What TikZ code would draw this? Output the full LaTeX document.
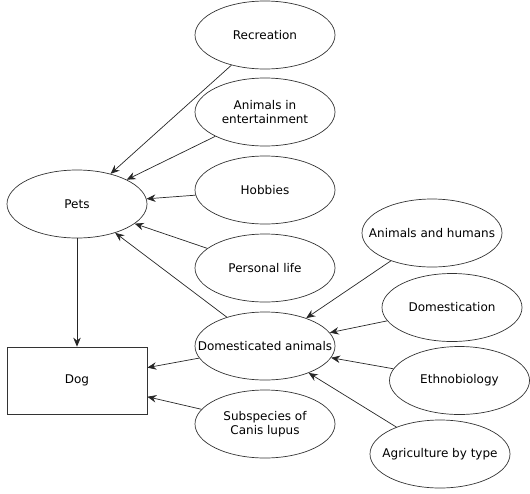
\documentclass[tikz,border=0pt]{standalone}
\usepackage{fontspec}
\setmainfont{DejaVu Sans}
\usetikzlibrary{shapes.geometric,arrows.meta}
\begin{document}
\begin{tikzpicture}[x=1pt,y=-1pt,
  lab/.style={align=center,inner sep=0pt,font=\fontsize{12}{14}\selectfont},
  ell/.style={ellipse,draw=black!80,line width=0.7pt,minimum width=140pt,minimum height=68pt,inner sep=0pt,label={[lab]center:#1}},
  box/.style={rectangle,draw=black!80,line width=0.7pt,minimum width=140pt,minimum height=67pt,inner sep=0pt,font=\fontsize{12}{14}\selectfont},
  arr/.style={draw=black!85,line width=0.7pt,-{Stealth[length=9pt,width=7.5pt,inset=3pt]}}]
\useasboundingbox (0,0) rectangle (530,493);
\node[ell={Recreation}] (rec) at (265,35) {};
\node[ell={Animals in\\entertainment}] (ent) at (265,112) {};
\node[ell={Hobbies}] (hob) at (265,190) {};
\node[ell={Personal life}] (per) at (265,268) {};
\node[ell={Pets}] (pets) at (77,204) {};
\node[box] (dog) at (77,380.5) {Dog};
\node[ell={Domesticated animals}] (dom) at (265,346) {};
\node[ell={Subspecies of\\Canis lupus}] (sub) at (265,424) {};
\node[ell={Animals and humans}] (ah) at (432,233) {};
\node[ell={Domestication}] (dmc) at (452,307.5) {};
\node[ell={Ethnobiology}] (eth) at (459.5,380.5) {};
\node[ell={Agriculture by type}] (agr) at (440,454) {};
\draw[arr] (rec) -- (pets);
\draw[arr] (ent) -- (pets);
\draw[arr] (hob) -- (pets);
\draw[arr] (per) -- (pets);
\draw[arr] (dom) -- (pets);
\draw[arr] (pets) -- (dog);
\draw[arr] (dom) -- (dog);
\draw[arr] (sub) -- (dog);
\draw[arr] (ah) -- (dom);
\draw[arr] (dmc) -- (dom);
\draw[arr] (eth) -- (dom);
\draw[arr] (agr) -- (dom);
\end{tikzpicture}
\end{document}
